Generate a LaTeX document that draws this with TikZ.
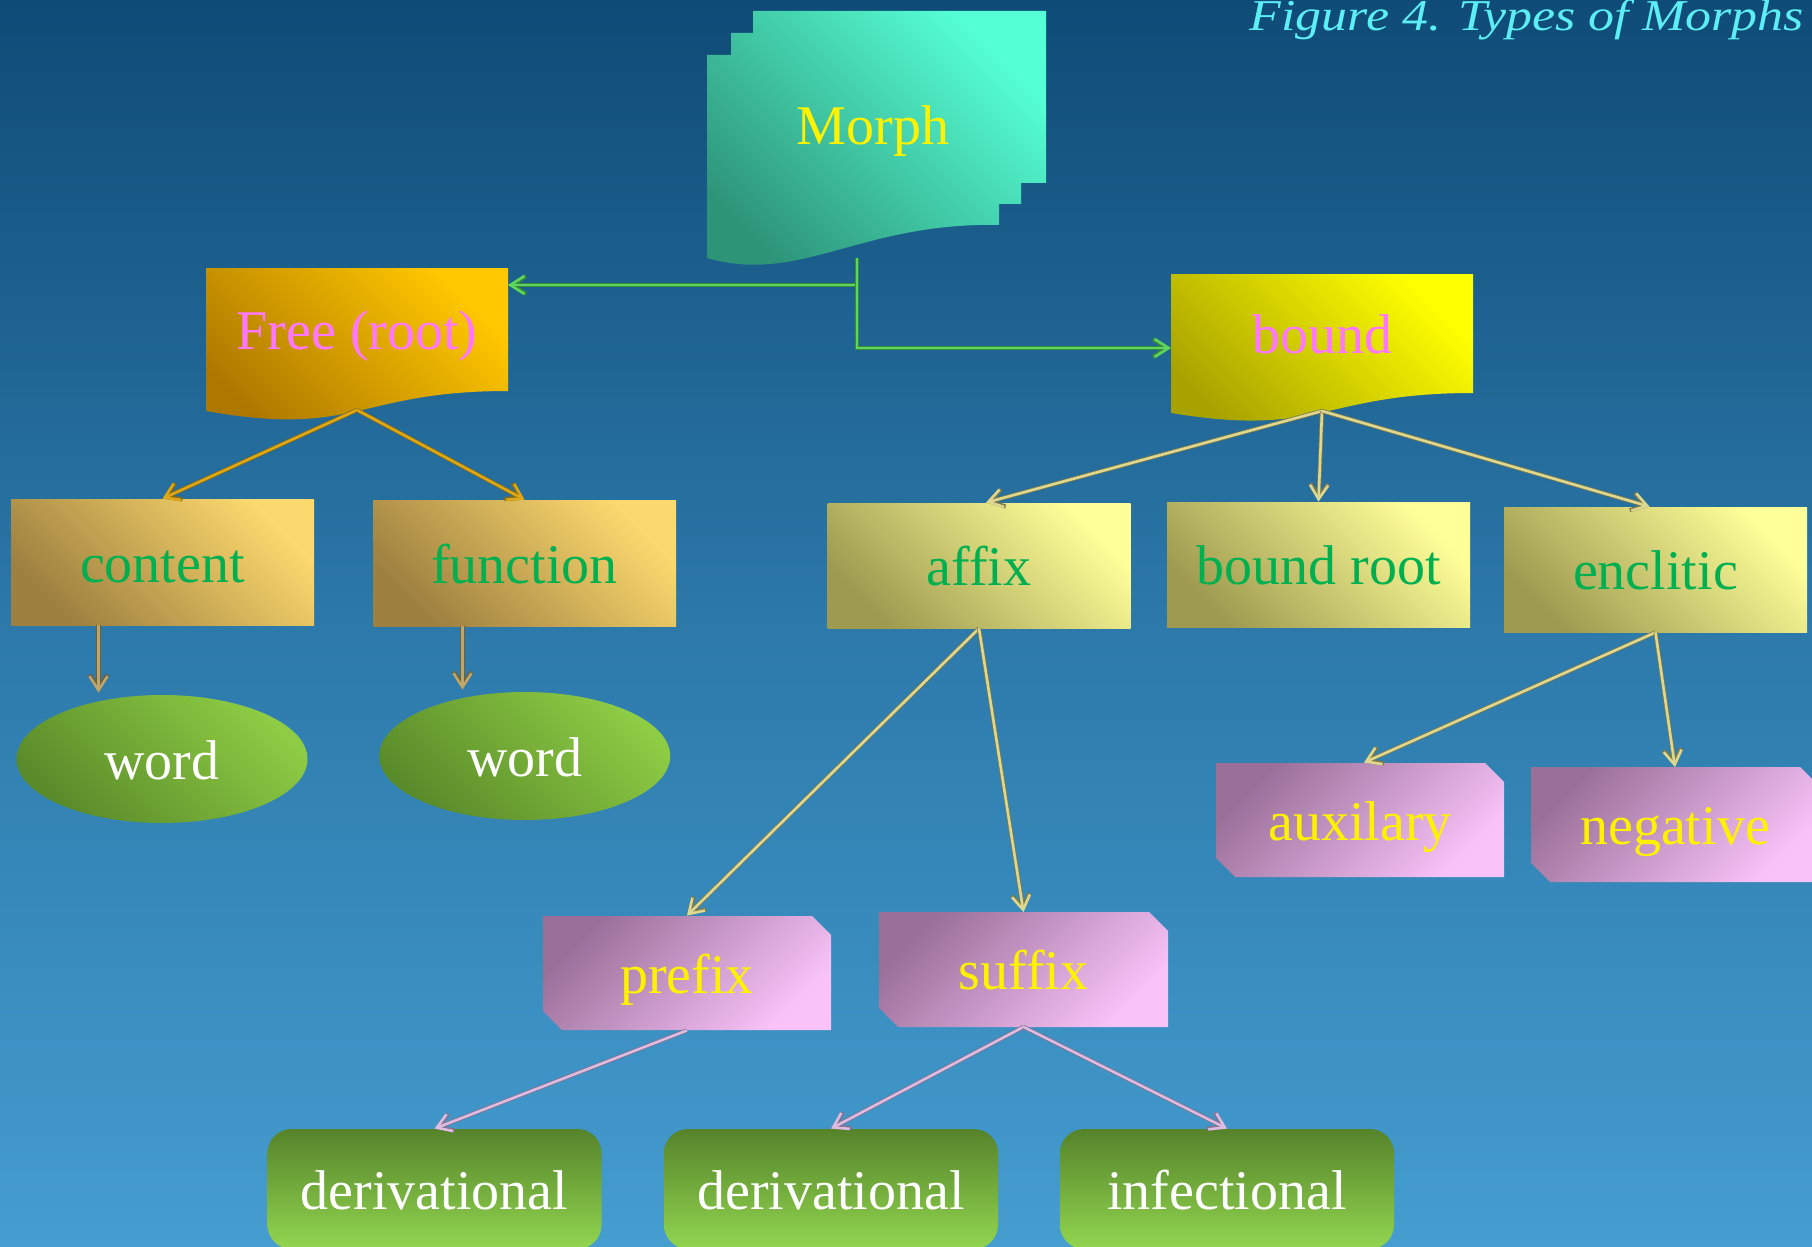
\documentclass[tikz,border=0pt]{standalone}
\usepackage{fontspec}
\setmainfont{Liberation Serif}
\usetikzlibrary{arrows.meta,shapes.geometric}

\newlength\px
\setlength\px{0.5pt}

% palette
\definecolor{bgtop}{HTML}{0F4B77}
\definecolor{bgmid}{HTML}{2C79AA}
\definecolor{bgbot}{HTML}{459DD0}
\definecolor{morphlt}{HTML}{55FFD5}
\definecolor{morphdk}{HTML}{2E9478}
\definecolor{freelt}{HTML}{FFC800}
\definecolor{freedk}{HTML}{AE7800}
\definecolor{boundlt}{HTML}{FFFF00}
\definecolor{bounddk}{HTML}{A8A200}
\definecolor{goldlt}{HTML}{FCD96E}
\definecolor{golddk}{HTML}{9E8040}
\definecolor{palelt}{HTML}{FFFF99}
\definecolor{paledk}{HTML}{9E9A50}
\definecolor{leaflt}{HTML}{8ECC44}
\definecolor{leafdk}{HTML}{5A8B2A}
\definecolor{pinklt}{HTML}{F9C3F9}
\definecolor{pinkdk}{HTML}{9A7099}
\definecolor{grasstop}{HTML}{55832A}
\definecolor{grassbot}{HTML}{92D650}
\definecolor{txtpink}{HTML}{FF77FF}
\definecolor{txtgreen}{HTML}{00B050}
\definecolor{titlecyan}{HTML}{5CEEF4}
\definecolor{lngreen}{HTML}{5CD65C}
\definecolor{lngreendk}{HTML}{3A8A3A}
\definecolor{lngold}{HTML}{DCA818}
\definecolor{lngolddk}{HTML}{8A6A10}
\definecolor{lnkhaki}{HTML}{DED790}
\definecolor{lnkhakidk}{HTML}{7E7A4A}
\definecolor{lntan}{HTML}{BCA66C}
\definecolor{lntandk}{HTML}{6E6040}
\definecolor{lnpink}{HTML}{DCBCE2}
\definecolor{lnpinkdk}{HTML}{86708C}

\tikzset{
  lbl/.style={font=\fontsize{28}{34}\selectfont, inner sep=0pt,
    text height=20pt, text depth=0pt},
  diag/.style 2 args={top color=#1, bottom color=#2, shading angle=-45},
  goldbox/.style={lbl, rectangle, diag={goldlt}{golddk}, text=txtgreen,
    minimum width=303\px, minimum height=126\px},
  palebox/.style={lbl, rectangle, diag={palelt}{paledk}, text=txtgreen,
    minimum width=303\px, minimum height=125\px},
  leaf/.style={lbl, ellipse, diag={leaflt}{leafdk}, text=white,
    minimum width=291\px, minimum height=128\px},
  pinkfill/.style={top color=pinkdk, bottom color=pinklt, shading angle=45},
  pinkbox/.style={lbl, rectangle, text=yellow,
    minimum width=288\px, minimum height=114\px},
  grassbox/.style={lbl, rectangle, rounded corners=12pt,
    top color=grasstop, bottom color=grassbot, text=white,
    minimum width=334\px, minimum height=120\px},
  tip/.style={-{Straight Barb[length=7pt,width=9pt]}},
  cased/.style 2 args={tip, draw=#1, line width=1.3pt,
    preaction={draw=#2, line width=2.1pt, tip}},
  greenarr/.style={cased={lngreen}{lngreendk}},
  goldarr/.style={cased={lngold}{lngolddk}},
  khakiarr/.style={cased={lnkhaki}{lnkhakidk}},
  tanarr/.style={cased={lntan}{lntandk}},
  pinkarr/.style={cased={lnpink}{lnpinkdk}},
}

% box with chamfered top-right and bottom-left corners
\newcommand\chamfered[4]{%
  \shade[pinkfill] (#1,#2) -- ({#3-19},#2) -- (#3,{#2+19}) -- (#3,#4)
    -- ({#1+19},#4) -- (#1,{#4-19}) -- cycle;}

\begin{document}
\begin{tikzpicture}[x=0.5pt, y=-0.5pt]
  \useasboundingbox (0,0) rectangle (1812,1247);
  \shade[top color=bgtop, bottom color=bgbot, middle color=bgmid]
    (0,0) rectangle (1812,1247);

  % title
  \node (title) [anchor=base east, text=titlecyan, inner sep=0pt,
    font=\itshape\fontsize{22}{26}\selectfont] at (1804,31)
    {\scalebox{1.18}[1]{Figure 4. Types of Morphs}};

  % stacked pages: Morph
  \shade[diag={morphlt}{morphdk}]
    (707,55) -- (731,55) -- (731,33) -- (753,33) -- (753,11) -- (1046,11)
    -- (1046,183) -- (1021,183) -- (1021,204) -- (999,204) -- (999,225)
    .. controls (860,222) and (800,285) .. (707,258) -- cycle;
  \node (morph) [anchor=base, text=yellow, inner sep=0pt,
    font=\fontsize{28}{34}\selectfont] at (873,145) {Morph};
  \coordinate (morph-out) at (857,258);

  % wavy documents: Free (root) and bound
  \shade[diag={freelt}{freedk}]
    (206,268) -- (508,268) -- (508,391)
    .. controls (357,391) and (357,438) .. (206,411) -- cycle;
  \node (free) [anchor=base, text=txtpink, inner sep=0pt,
    font=\fontsize{28}{34}\selectfont] at (357,349) {Free (root)};
  \coordinate (free-in) at (508,285);
  \coordinate (free-out) at (357,410);

  \shade[diag={boundlt}{bounddk}]
    (1171,274) -- (1473,274) -- (1473,393)
    .. controls (1322,393) and (1322,438) .. (1171,413) -- cycle;
  \node (bound) [anchor=base, text=txtpink, inner sep=0pt,
    font=\fontsize{28}{34}\selectfont] at (1322,353) {bound};
  \coordinate (bound-in) at (1171,348);
  \coordinate (bound-out) at (1322,411);

  % second level
  \node (content)  [goldbox] at (162.5,562) {content};
  \node (function) [goldbox] at (524.5,563) {function};
  \node (affix)    [palebox] at (979,565.5) {affix};
  \node (broot)    [palebox] at (1318.5,564.5) {bound root};
  \node (enclitic) [palebox] at (1655.5,569.5) {enclitic};

  % words
  \node (word1) [leaf] at (162,759) {word};
  \node (word2) [leaf] at (524.7,756) {word};

  % chamfered boxes
  \chamfered{1216}{763}{1504}{877}
  \node (auxilary) [pinkbox] at (1360,820) {auxilary};
  \chamfered{1531}{767}{1819}{882}
  \node (negative) [pinkbox] at (1675,824.5) {negative};
  \chamfered{543}{916}{831}{1030}
  \node (prefix) [pinkbox] at (687,973) {prefix};
  \chamfered{879}{912}{1168}{1027}
  \node (suffix) [pinkbox] at (1023.5,969.5) {suffix};

  % bottom row
  \node (der1)   [grassbox] at (434.5,1189) {derivational};
  \node (der2)   [grassbox] at (831,1189) {derivational};
  \node (inflex) [grassbox] at (1227,1189) {infectional};

  % connectors
  \draw[greenarr] (morph-out) |- (free-in);
  \draw[greenarr] (morph-out) |- (bound-in);

  \draw[goldarr] (free-out) -- (content.north);
  \draw[goldarr] (free-out) -- (function.north);

  \draw[khakiarr] (bound-out) -- ([xshift=7\px]affix.north);
  \draw[khakiarr] (bound-out) -- (broot.north);
  \draw[khakiarr] (bound-out) -- ([xshift=-6\px]enclitic.north);

  \draw[tanarr] ([xshift=-64\px]content.south)
    -- ([xshift=-64\px,yshift=2\px]content.south |- word1.north);
  \draw[tanarr] ([xshift=-62\px]function.south)
    -- ([xshift=-62\px,yshift=2\px]function.south |- word2.north);

  \draw[khakiarr] (affix.south) -- (prefix.north);
  \draw[khakiarr] (affix.south) -- (suffix.north);
  \draw[khakiarr] (enclitic.south) -- ([xshift=4\px]auxilary.north);
  \draw[khakiarr] (enclitic.south) -- (negative.north);

  \draw[pinkarr] (prefix.south) -- (der1.north);
  \draw[pinkarr] (suffix.south) -- (der2.north);
  \draw[pinkarr] (suffix.south) -- (inflex.north);
\end{tikzpicture}
\end{document}
